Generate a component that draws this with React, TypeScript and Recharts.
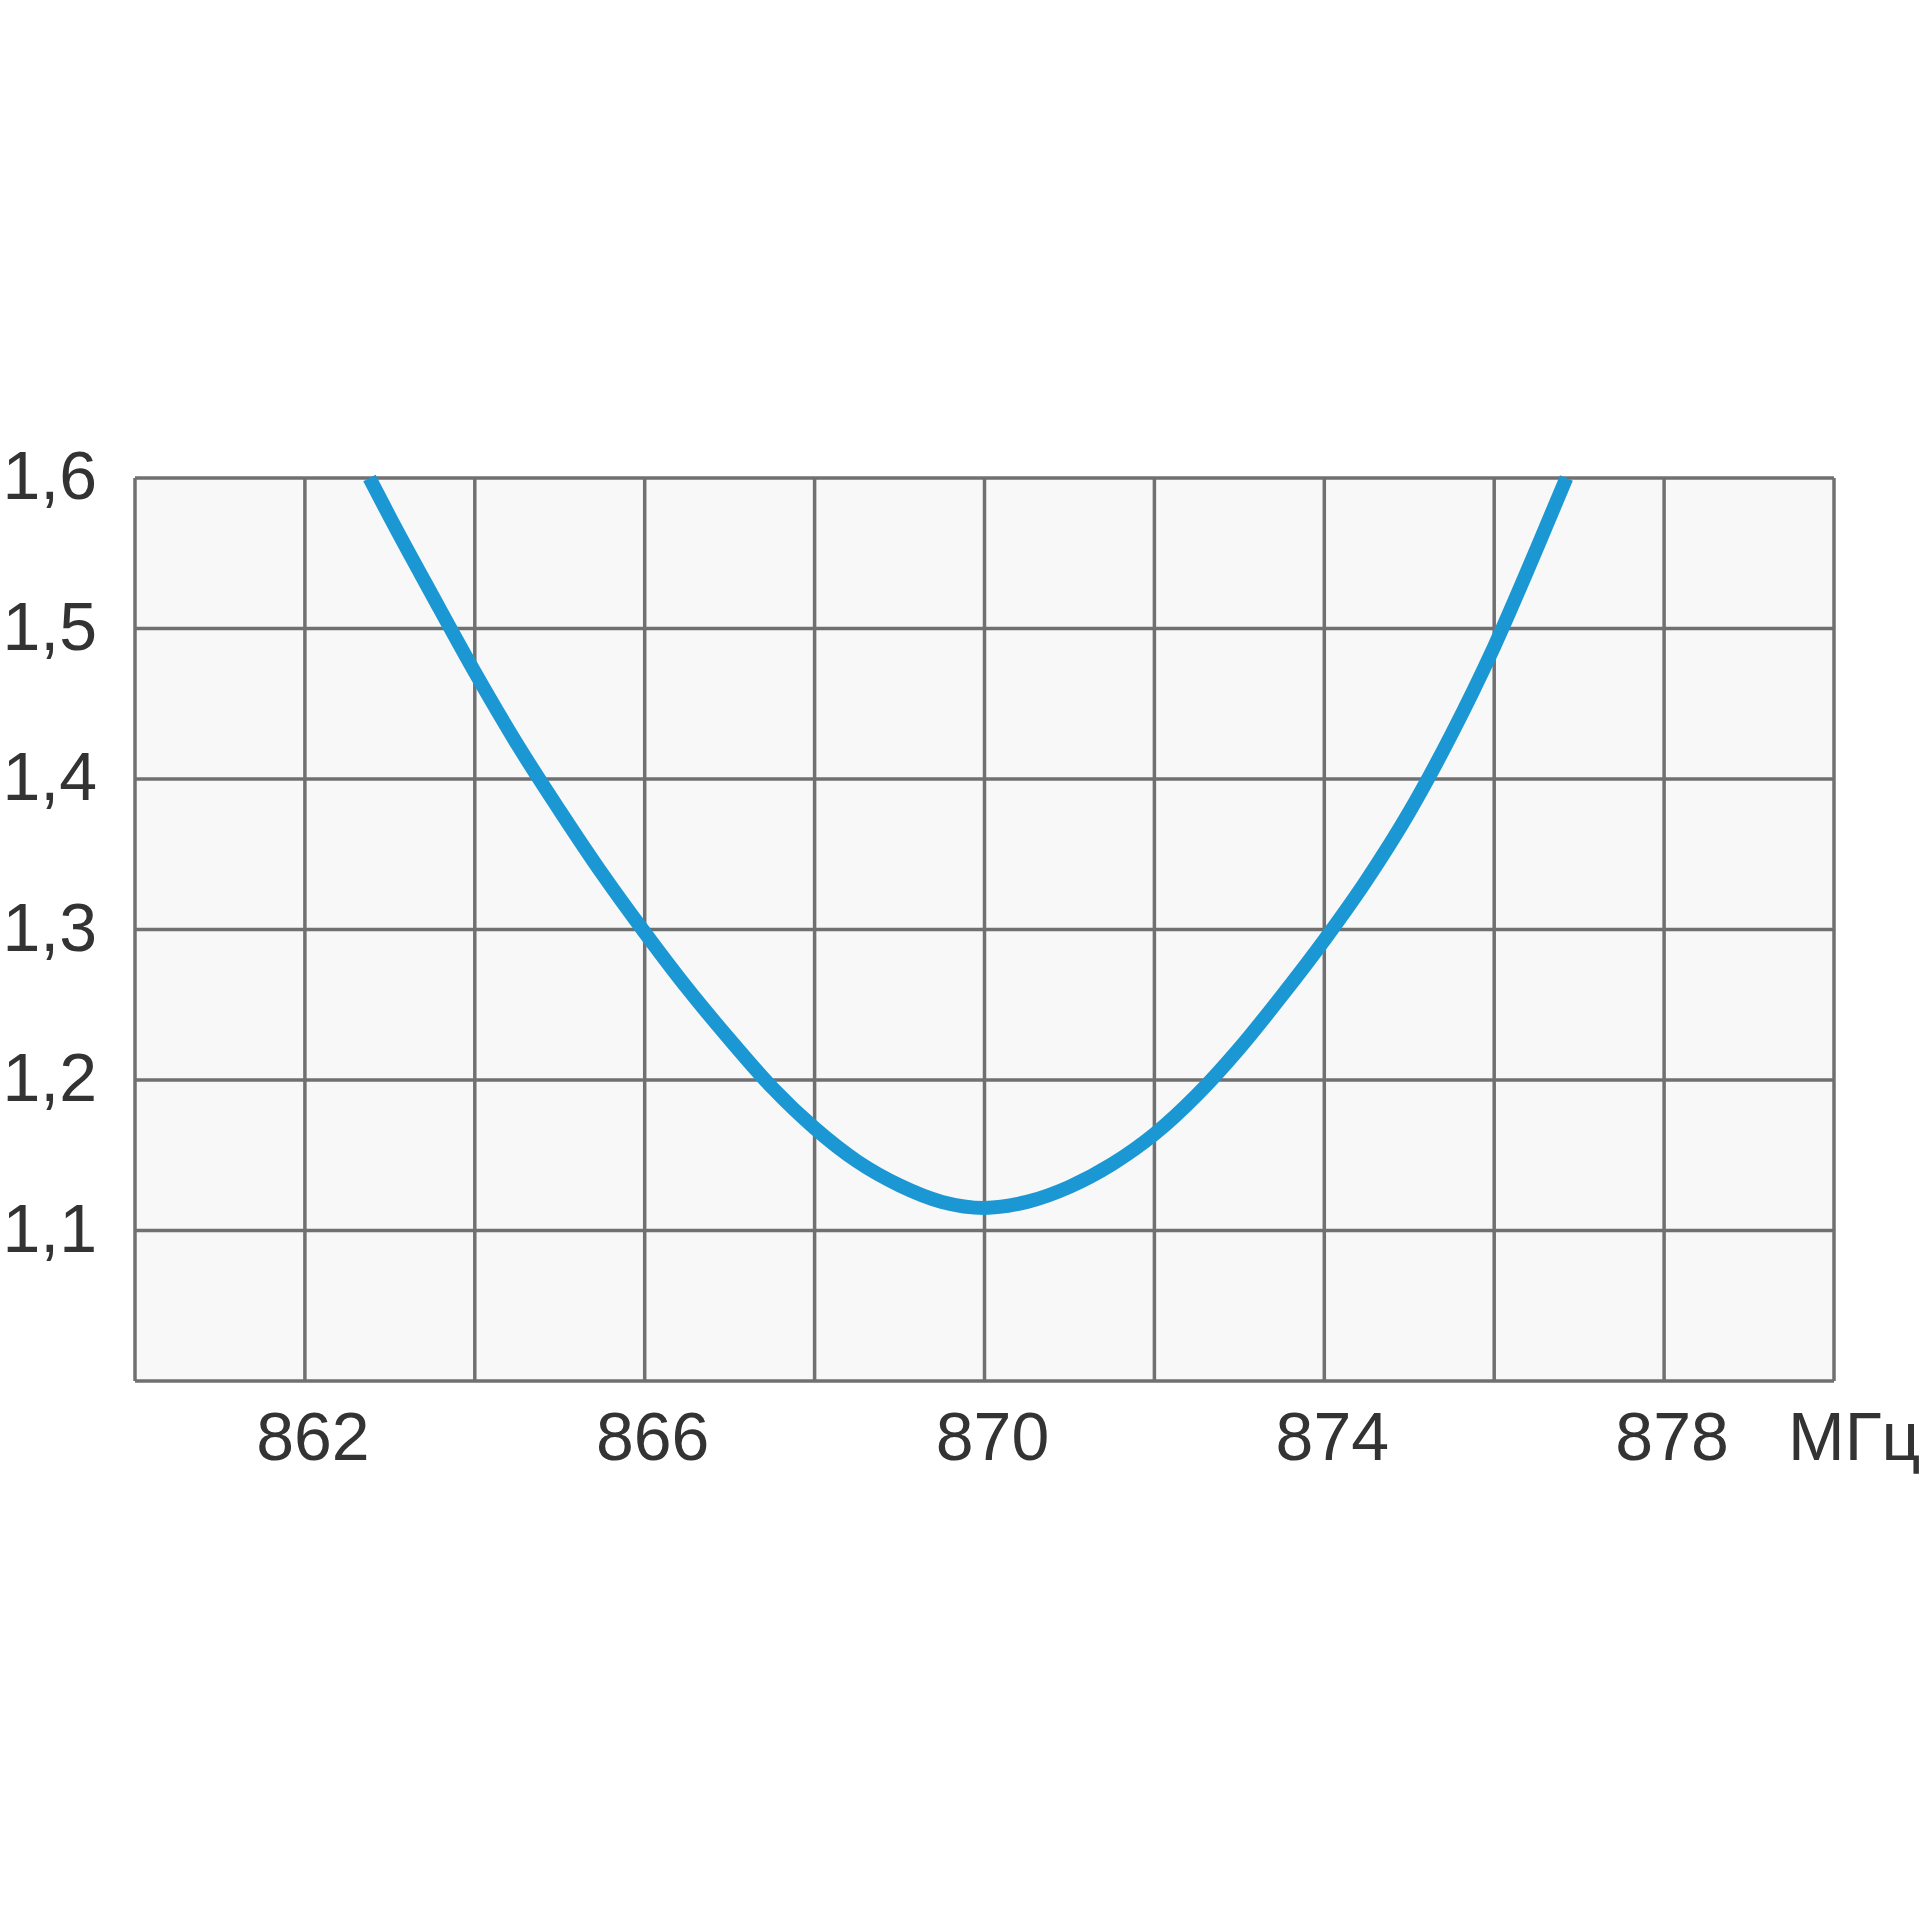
import React from "react";
import { LineChart, Line, XAxis, YAxis, CartesianGrid } from "recharts";

// frequency, MHz
const freqs = [
  862.76, 863, 863.5, 864, 864.5, 865, 865.5, 866, 866.5, 867, 867.5, 868, 868.5, 869, 869.5,
  870, 870.5, 871, 871.5, 872, 872.5, 873, 873.5, 874, 874.5, 875, 875.5, 876, 876.5, 876.85,
];
// VSWR
const vswr = [
  1.6, 1.574, 1.522, 1.471, 1.423, 1.379, 1.337, 1.298, 1.261, 1.227, 1.195, 1.168, 1.146, 1.13, 1.119,
  1.115, 1.119, 1.129, 1.144, 1.164, 1.19, 1.221, 1.256, 1.293, 1.333, 1.378, 1.43, 1.488, 1.553, 1.6,
];

const gridFreqs = [860, 862, 864, 866, 868, 870, 872, 874, 876, 878, 880];
const labelFreqs = [862, 866, 870, 874, 878];
const yTicks = [1.0, 1.1, 1.2, 1.3, 1.4, 1.5, 1.6];

const data = freqs.map((f, i) => ({ f, v: vswr[i] }));

const textStyle = { fill: "#333333", fontSize: 68, fontFamily: "'Liberation Sans', Arial, sans-serif" };

function App() {
  return (
    <div style={{ position: "absolute", left: 0, top: 0, width: 1920, height: 1920, background: "#fff" }}>
      <LineChart
        width={1920}
        height={1920}
        data={data}
        margin={{ top: 478, right: 86, bottom: 429, left: 0 }}
      >
        <CartesianGrid stroke="#707070" strokeWidth={3.5} fill="#f8f8f8" />
        <XAxis
          dataKey="f"
          type="number"
          domain={[860, 880]}
          ticks={gridFreqs}
          interval={0}
          height={110}
          axisLine={false}
          tickLine={false}
          tickSize={22}
          tickMargin={9}
          tick={{ ...textStyle, dx: 8 }}
          tickFormatter={(v: number) => (labelFreqs.includes(v) ? String(v) : "")}
          label={{ value: "МГц", position: "right", offset: -46, ...textStyle }}
        />
        <YAxis
          type="number"
          domain={[1.0, 1.6]}
          ticks={yTicks}
          interval={0}
          width={135}
          axisLine={false}
          tickLine={false}
          tickSize={30}
          tickMargin={8}
          tick={{ ...textStyle, dy: -3 }}
          tickFormatter={(v: number) => (v === 1 ? "" : v.toFixed(1).replace(".", ","))}
        />
        <Line
          dataKey="v"
          type="monotone"
          stroke="#1b98d3"
          strokeWidth={14}
          dot={false}
          isAnimationActive={false}
        />
      </LineChart>
    </div>
  );
}

export default App;
